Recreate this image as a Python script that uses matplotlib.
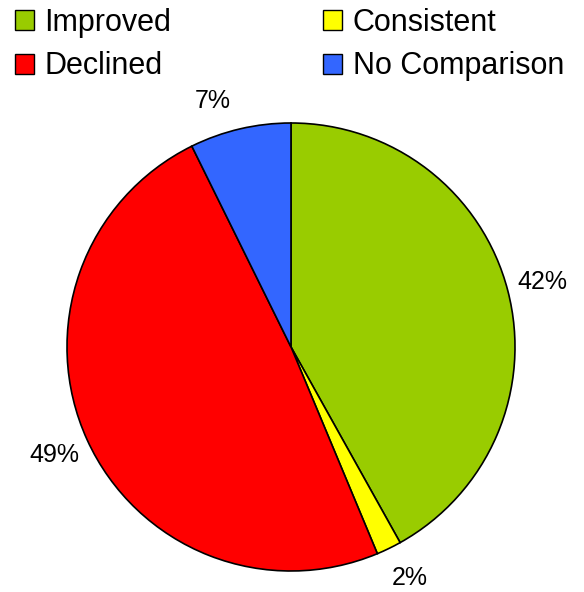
import matplotlib
matplotlib.use("Agg")
import matplotlib.pyplot as plt
from matplotlib.patches import Patch

plt.rcParams["font.family"] = ["Liberation Sans", "DejaVu Sans"]

categories = ["Improved", "Consistent", "Declined", "No Comparison"]
values = [41.9, 1.8, 49.0, 7.3]
colors = ["#99CC00", "#FFFF00", "#FF0000", "#3366FF"]

fig = plt.figure(figsize=(5.84, 5.92), dpi=100)
ax = fig.add_axes([67 / 584, 21 / 592, 448 / 584, 448 / 592])

wedges, texts, autotexts = ax.pie(
    values, colors=colors, startangle=90, counterclock=False,
    autopct=lambda p: f"{p:.0f}%", pctdistance=1.16,
    wedgeprops=dict(edgecolor="black", linewidth=1.2),
    textprops=dict(fontsize=18))
# labels of the thin slices are nudged, like the original
autotexts[3].set_position((-0.35, 1.10))
autotexts[1].set_position((0.53, -1.03))
ax.set_xlim(-1, 1)
ax.set_ylim(-1, 1)
ax.set_aspect("equal")

# legend: column-wise order
order = [0, 2, 1, 3]
handles = [Patch(facecolor=colors[i], edgecolor="black", linewidth=1) for i in order]
labels = [categories[i] for i in order]
fig.legend(handles, labels, ncol=2, loc="upper left", bbox_to_anchor=(0.012, 1.0),
           frameon=False, fontsize=22, handlelength=0.62, handleheight=0.62,
           handletextpad=0.36, columnspacing=4.95, labelspacing=0.45,
           borderaxespad=0.0, borderpad=0.25)

fig.savefig("out.png", dpi=100)
